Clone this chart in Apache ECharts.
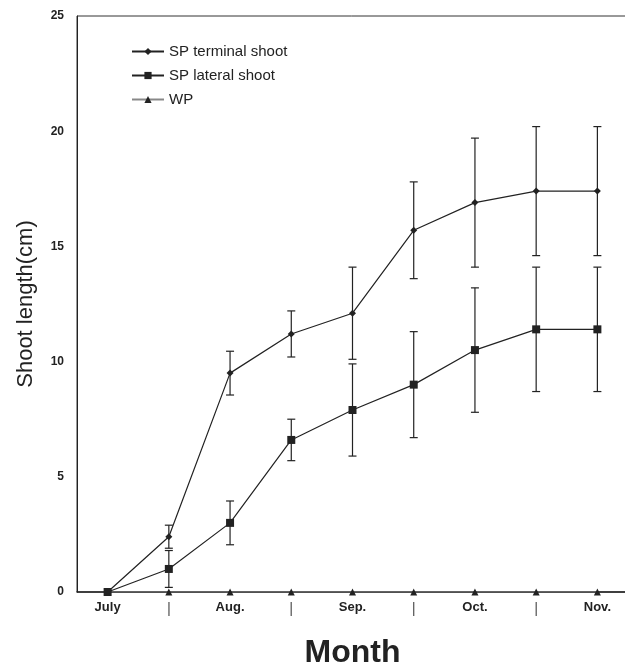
<!DOCTYPE html>
<html>
<head>
<meta charset="utf-8">
<script src="https://cdn.jsdelivr.net/npm/echarts@6/dist/echarts.min.js"></script>
<style>
html, body { margin: 0; padding: 0; background: #fff; }
#main { width: 625px; height: 668px; }
</style>
</head>
<body>
<div id="main"></div>
<script>
// x categories (odd slots are the half-month marks shown as "|")
var months = ['July', '|', 'Aug.', '|', 'Sep.', '|', 'Oct.', '|', 'Nov.'];

// shoot length (cm) and error bar half-width
var terminal = [0, 2.4, 9.5, 11.2, 12.1, 15.7, 16.9, 17.4, 17.4];
var terminalErr = [0, 0.5, 0.95, 1.0, 2.0, 2.1, 2.8, 2.8, 2.8];
var lateral = [0, 1.0, 3.0, 6.6, 7.9, 9.0, 10.5, 11.4, 11.4];
var lateralErr = [0, 0.8, 0.95, 0.9, 2.0, 2.3, 2.7, 2.7, 2.7];
var wp = [0, 0, 0, 0, 0, 0, 0, 0, 0];

var ink = '#222';

function errData(vals, errs) {
	var out = [];
	for (var i = 0; i < vals.length; i++) {
		if (errs[i] > 0) {
			out.push([i, vals[i] - errs[i], vals[i] + errs[i]]);
		}
	}
	return out;
}

//误差线
function renderErr(params, api) {
	var lo = api.coord([api.value(0), api.value(1)]);
	var hi = api.coord([api.value(0), api.value(2)]);
	var w = 4;
	var st = { stroke: ink, lineWidth: 1.2 };
	return {
		type: 'group',
		children: [
			{ type: 'line', shape: { x1: lo[0], y1: lo[1], x2: hi[0], y2: hi[1] }, style: st },
			{ type: 'line', shape: { x1: lo[0] - w, y1: lo[1], x2: lo[0] + w, y2: lo[1] }, style: st },
			{ type: 'line', shape: { x1: hi[0] - w, y1: hi[1], x2: hi[0] + w, y2: hi[1] }, style: st }
		]
	};
}

var myChart = echarts.init(document.getElementById('main'));
var option = {
	backgroundColor: '#fff',
	animation: false,
	grid: {
		left: 77,
		right: -3,
		top: 16,
		bottom: 76,
		outerBoundsMode: 'none',
		containLabel: false,
		show: true,
		borderColor: '#333',
		borderWidth: 1
	},
	legend: {
		orient: 'vertical',
		left: 126,
		top: 39,
		itemWidth: 32,
		itemHeight: 9,
		itemGap: 9,
		textStyle: { fontFamily: 'Liberation Sans', fontSize: 15, color: ink },
		data: ['SP terminal shoot', 'SP lateral shoot', 'WP']
	},
	xAxis: {
		type: 'category',
		data: months,
		boundaryGap: true,
		name: 'Month',
		nameLocation: 'middle',
		nameGap: 45,
		nameTextStyle: { fontFamily: 'Liberation Sans', fontSize: 32, fontWeight: 'bold', color: ink },
		axisLine: { lineStyle: { color: ink, width: 1.5 } },
		axisTick: { show: false },
		axisLabel: {
			interval: 0,
			margin: 9,
			fontFamily: 'Liberation Sans',
			fontSize: 13,
			fontWeight: 'bold',
			color: ink,
			formatter: function (v) {
				return v === '|' ? '{bar|' + v + '}' : v;
			},
			rich: {
				bar: { fontFamily: 'Liberation Sans', fontSize: 15, fontWeight: 'normal', color: '#555' }
			}
		},
		splitLine: { show: false }
	},
	yAxis: {
		type: 'value',
		min: 0,
		max: 25,
		interval: 5,
		name: 'Shoot length(cm)',
		nameLocation: 'middle',
		nameRotate: 90,
		nameGap: 40,
		nameTextStyle: { fontFamily: 'Liberation Sans', fontSize: 22, color: ink },
		axisLine: { show: true, lineStyle: { color: ink, width: 1 } },
		axisTick: { show: false },
		axisLabel: {
			margin: 13,
			fontFamily: 'Liberation Sans',
			fontSize: 12,
			fontWeight: 'bold',
			color: ink
		},
		splitLine: { show: false }
	},
	series: [
		{
			name: 'SP terminal shoot',
			type: 'line',
			data: terminal,
			symbol: 'diamond',
			symbolSize: 7,
			itemStyle: { color: ink },
			lineStyle: { color: ink, width: 1.2 },
			z: 5
		},
		{
			name: 'SP lateral shoot',
			type: 'line',
			data: lateral,
			symbol: 'rect',
			symbolSize: 8,
			itemStyle: { color: ink },
			lineStyle: { color: ink, width: 1.2 },
			z: 6
		},
		{
			name: 'WP',
			type: 'line',
			data: wp,
			symbol: 'triangle',
			symbolSize: 7,
			itemStyle: { color: ink },
			lineStyle: { color: '#888', width: 1.2 },
			z: 4
		},
		{
			type: 'custom',
			renderItem: renderErr,
			data: errData(terminal, terminalErr),
			z: 3
		},
		{
			type: 'custom',
			renderItem: renderErr,
			data: errData(lateral, lateralErr),
			z: 3
		}
	]
};
myChart.setOption(option);
</script>
</body>
</html>
